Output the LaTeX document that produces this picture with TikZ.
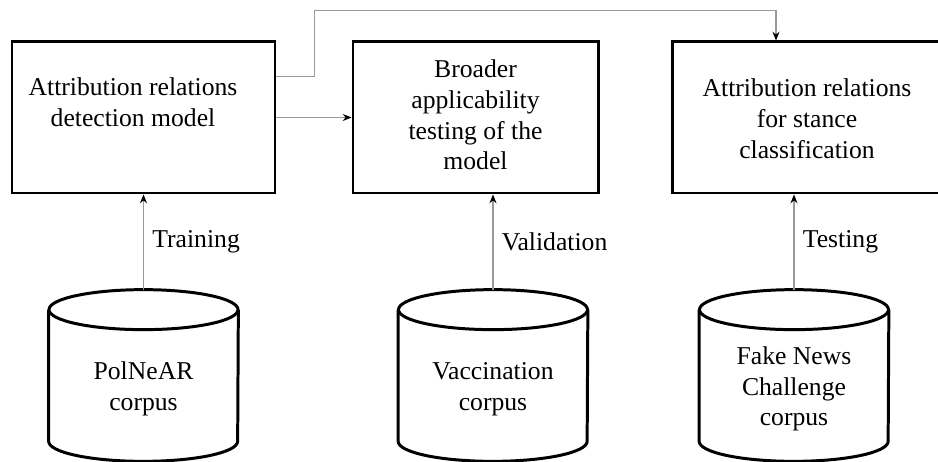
\documentclass[tikz,border=0pt]{standalone}
\usepackage{fontspec}
\setmainfont{Liberation Serif}
\usetikzlibrary{arrows.meta, positioning}

\begin{document}
\begin{tikzpicture}[
    font=\fontsize{14.6pt}{17.5pt}\selectfont,
    % Styles
    stage_box/.style={draw=black, line width=1.7pt, minimum height=3.02cm, inner sep=0pt},
    corpus_db/.style={minimum width=3.78cm, minimum height=3.42cm, inner sep=0pt},
    db_line/.style={black, line width=1.7pt, line join=round},
    flow/.style={gray!80, line width=0.6pt, -{Stealth[length=5pt, width=4pt, black]}},
    step_label/.style={right=0.05cm, text=black}
]

    % ==========================================
    % 1. CANVAS
    % ==========================================
    \useasboundingbox (0, 0) rectangle (18.76, 9.24);

    % ==========================================
    % 2. MODEL STAGES (top row)
    % ==========================================
    \node[stage_box, minimum width=5.26cm] (model) at (2.87, 6.89) {};
    \node[stage_box, minimum width=4.9cm] (broad) at (9.51, 6.89) {};
    \node[stage_box, minimum width=5.46cm] (stance) at (16.17, 6.89) {};

    \node[align=center] (model_txt) at (2.66, 6.80) {Attribution relations\\detection model\\\strut};
    \node[align=center] (broad_txt) at (9.51, 6.94) {Broader\\applicability\\testing of the\\model};
    \node[align=center] (stance_txt) at (16.14, 6.87) {Attribution relations\\for stance\\classification};

    % ==========================================
    % 3. CORPORA (bottom row)
    % ==========================================
    \node[corpus_db] (polnear) at (2.87, 1.73) {};
    \node[corpus_db] (vacc) at (9.86, 1.73) {};
    \node[corpus_db] (fnc) at (15.88, 1.73) {};

    % Cylinder outlines around each corpus node
    \foreach \db in {polnear, vacc, fnc} {
        \draw[db_line] ([yshift=-0.4cm]\db.north) ellipse [x radius=1.89cm, y radius=0.4cm];
        \draw[db_line] ([yshift=-0.4cm]\db.north west) -- ([yshift=0.4cm]\db.south west)
            arc[start angle=180, end angle=360, x radius=1.89cm, y radius=0.4cm]
            -- ([yshift=-0.4cm]\db.north east);
    }

    \node[align=center] (polnear_txt) at (2.87, 1.46) {PolNeAR\\corpus};
    \node[align=center] (vacc_txt) at (9.86, 1.46) {Vaccination\\corpus};
    \node[align=center] (fnc_txt) at (15.88, 1.46) {Fake News\\Challenge\\corpus};

    % ==========================================
    % 4. CONNECTORS
    % ==========================================
    \draw[flow] (polnear.north) -- (model.south)
        node[midway, step_label] (train) {Training};
    \draw[flow] (vacc.north) -- (vacc.north |- broad.south)
        node[midway, step_label] (valid) {Validation};
    \draw[flow] (fnc.north) -- (fnc.north |- stance.south)
        node[midway, step_label] (test) {Testing};

    \draw[flow] (model) -- (broad);
    \draw[flow] ([yshift=-0.72cm]model.north east) -| ++(0.76, 1.32)
        -| ([xshift=-0.65cm]stance.north);

\end{tikzpicture}
\end{document}
